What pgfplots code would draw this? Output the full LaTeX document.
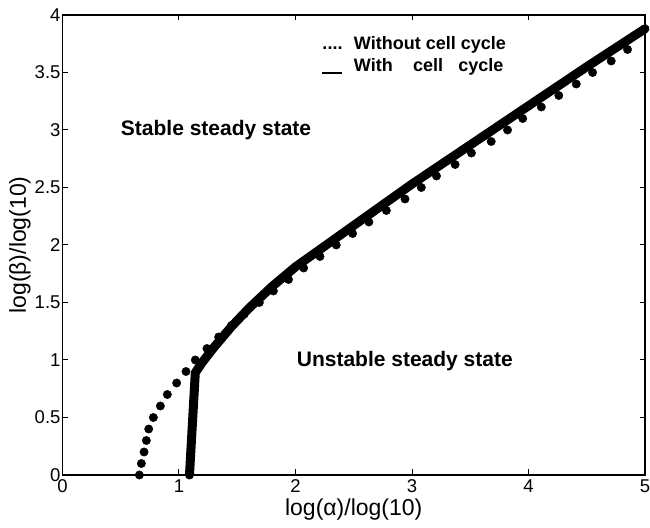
\documentclass[border=0pt]{standalone}
\usepackage{fontspec}
\setmainfont{Liberation Sans}
\usepackage{pgfplots}
\pgfplotsset{compat=1.18}
\begin{document}
\begin{tikzpicture}
\begin{axis}[
  scale only axis,
  width=582.5pt, height=460pt,
  xmin=0, xmax=5, ymin=0, ymax=4,
  xtick={0,1,2,3,4,5},
  ytick={0,0.5,1,1.5,2,2.5,3,3.5,4},
  /pgf/number format/assume math mode=true,
  tick label style={font=\fontsize{18.5}{20}\selectfont},
  xticklabel style={yshift=-1pt},
  yticklabel style={xshift=1.5pt},
  tick align=inside,
  major tick length=5.5pt,
  axis line style={line width=1.2pt},
  every tick/.style={line width=1pt, black},
  xlabel={log(α)/log(10)},
  ylabel={log(β)/log(10)},
  label style={font=\fontsize{23}{26}\selectfont},
  xlabel style={at={([yshift=-35pt]rel axis cs:0.5,0)}, anchor=center},
  ylabel style={at={([xshift=-42.6pt]rel axis cs:0,0.5)}, anchor=center},
  clip=false,
]
% Without cell cycle (dotted)
\addplot[only marks, mark=*, mark size=4.2pt, black] coordinates {
(0.66,0) (0.677,0.1) (0.70,0.2) (0.72,0.3) (0.74,0.4) (0.78,0.5) (0.84,0.6)
(0.90,0.7) (0.98,0.8) (1.06,0.9) (1.14,1.0) (1.24,1.1) (1.34,1.2) (1.45,1.3)
(1.56,1.4) (1.69,1.5) (1.81,1.6) (1.94,1.7) (2.07,1.8) (2.21,1.9) (2.35,2.0)
(2.49,2.1) (2.63,2.2) (2.78,2.3) (2.94,2.4) (3.08,2.5) (3.21,2.6) (3.37,2.7)
(3.51,2.8) (3.68,2.9) (3.82,3.0) (3.95,3.1) (4.11,3.2) (4.26,3.3) (4.41,3.4)
(4.55,3.5) (4.71,3.6) (4.85,3.7)
};
% With cell cycle (solid)
\addplot[black, line width=9pt, line cap=round, line join=round] coordinates {
(1.09,0) (1.14,0.89) (1.20,0.98) (1.30,1.11) (1.45,1.29) (1.60,1.45) (1.80,1.64)
(2.0,1.81) (2.25,1.99) (2.5,2.17) (2.75,2.35) (3.0,2.53) (3.5,2.87) (4.0,3.21)
(4.5,3.55) (5.0,3.88)
};
\node[anchor=west, font=\fontsize{21}{24}\selectfont\bfseries, inner sep=0pt] at (axis cs:0.50,3.0) {Stable steady state};
\node[anchor=west, font=\fontsize{21}{24}\selectfont\bfseries, inner sep=0pt] at (axis cs:2.01,0.99) {Unstable steady state};
\node[anchor=base west, font=\fontsize{18}{20}\selectfont\bfseries, inner sep=0pt] at (axis cs:2.23,3.70) {....};
\node[anchor=base west, font=\fontsize{18}{20}\selectfont\bfseries, inner sep=0pt] at (axis cs:2.50,3.70) {Without cell cycle};
\node[anchor=base west, font=\fontsize{18}{20}\selectfont\bfseries, inner sep=0pt] at (axis cs:2.23,3.51) {\rule[-3pt]{20pt}{2.2pt}};
\node[anchor=base west, font=\fontsize{18}{20}\selectfont\bfseries, inner sep=0pt] at (axis cs:2.50,3.51) {With};
\node[anchor=base west, font=\fontsize{18}{20}\selectfont\bfseries, inner sep=0pt] at (axis cs:3.007,3.51) {cell};
\node[anchor=base west, font=\fontsize{18}{20}\selectfont\bfseries, inner sep=0pt] at (axis cs:3.397,3.51) {cycle};
\end{axis}
\pgfresetboundingbox
\path ([shift={(-62.5pt,-52pt)}]current axis.south west) rectangle ([shift={(5pt,15pt)}]current axis.north east);
\end{tikzpicture}
\end{document}
